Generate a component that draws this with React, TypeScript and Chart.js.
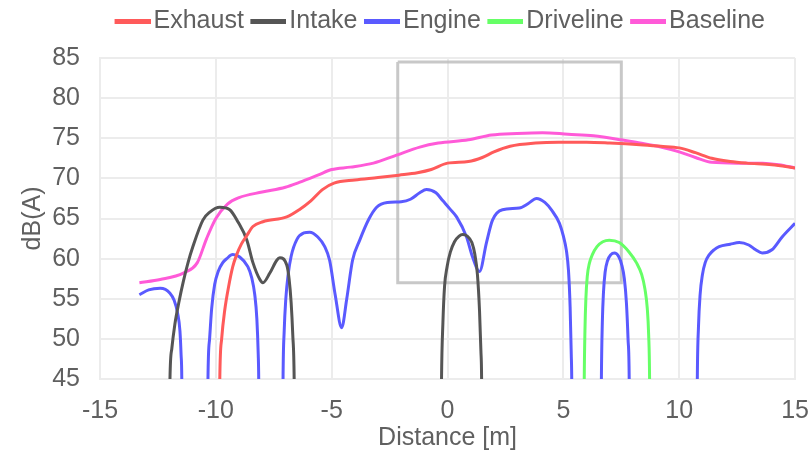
import React, { useEffect, useRef } from 'react';
import { Chart, registerables } from 'chart.js';

Chart.register(...registerables);

// ---- Data ----
const seriesNames = ['Exhaust', 'Intake', 'Engine', 'Driveline', 'Baseline'];
const seriesColors = ['#ff5a5a', '#555555', '#5a5aff', '#66ff66', '#ff5ad8'];

const exhaustX = [-9.87, -9.83, -9.75, -9.62, -9.45, -9.27, -9.1, -8.9, -8.66, -8.4, -7.97, -6.94, -6.4, -5.9, -5.4, -4.9, -4.0, -3.0, -2.1, -1.3, -0.7, 0.0, 0.9, 1.5, 2.0, 2.7, 3.8, 4.8, 6.0, 7.0, 8.3, 9.2, 10.0, 10.7, 11.4, 12.2, 12.9, 14.0, 15.0];
const exhaustY = [30, 45, 50, 53.5, 56.5, 59.0, 60.5, 61.8, 62.9, 64.0, 64.6, 65.2, 66.1, 67.2, 68.6, 69.4, 69.8, 70.1, 70.4, 70.7, 71.1, 71.9, 72.1, 72.6, 73.3, 74.0, 74.4, 74.5, 74.5, 74.4, 74.2, 74.0, 73.8, 73.2, 72.5, 72.1, 71.9, 71.7, 71.3];

const intakeX = [-12.03, -11.98, -11.9, -11.77, -11.6, -11.4, -11.2, -10.99, -10.56, -10.26, -9.83, -9.4, -9.05, -8.66, -8.4, -8.1, -7.97, -7.67, -7.37, -7.24, -6.94, -6.84, -6.75, -6.68, -6.62, -6.58, -3,
  -0.3, -0.26, -0.2, -0.13, -0.02, 0.12, 0.3, 0.5, 0.65, 0.85, 1.05, 1.18, 1.29, 1.38, 1.44, 1.47, 1.5];
const intakeY = [30, 45, 48.8, 51.8, 54.5, 57.2, 59.5, 61.5, 64.8, 65.8, 66.4, 66.1, 64.6, 62.3, 59.5, 57.4, 57.0, 58.2, 59.8, 60.1, 59.2, 57.5, 54.5, 50.5, 45, 30, null,
  30, 45, 52, 56.5, 59.0, 60.8, 62.1, 62.8, 63.0, 62.8, 62.0, 60.5, 58.0, 53.5, 48.5, 45, 30];

const engineX = [-13.3, -12.9, -12.4, -11.98, -11.8, -11.65, -11.55, -11.5, -11.47, -11.44, -10.9,
  -10.37, -10.34, -10.27, -10.18, -10.05, -9.9, -9.7, -9.53, -9.27, -8.97, -8.62, -8.45, -8.32, -8.23, -8.17, -8.15, -8.12, -7.6,
  -7.13, -7.1, -7.05, -6.98, -6.88, -6.75, -6.5, -6.2, -5.95, -5.6, -5.3, -5.09, -4.85, -4.57, -4.35, -4.1, -3.79, -3.4, -3.06, -2.6, -2.0, -1.6, -1.2, -0.91, -0.5, -0.2, 0.1, 0.39, 0.82, 1.08, 1.38, 1.68, 1.94, 2.37, 3.1, 3.5, 3.84, 4.2, 4.5, 4.83, 5.0, 5.13, 5.22, 5.29, 5.34, 5.36, 5.39, 6.0,
  6.61, 6.64, 6.68, 6.73, 6.8, 6.9, 7.05, 7.2, 7.38, 7.52, 7.63, 7.72, 7.79, 7.84, 7.87, 9.0,
  10.75, 10.78, 10.83, 10.9, 11.0, 11.12, 11.3, 11.5, 11.72, 12.2, 12.59, 13.0, 13.3, 13.58, 14.0, 14.44, 15.0];
const engineY = [55.5, 56.1, 56.3, 55.7, 54.8, 53.2, 51.0, 48, 45, 30, null,
  30, 45, 50, 53.8, 56.8, 58.4, 59.5, 60.0, 60.5, 60.2, 59.0, 57.6, 55.5, 52.5, 48, 45, 30, null,
  30, 45, 51, 55, 58, 60.3, 62.4, 63.2, 63.3, 62.7, 61.5, 59.8, 55.5, 51.4, 55.0, 59.8, 62.3, 64.9, 66.4, 67.0, 67.1, 67.4, 68.2, 68.6, 68.2, 67.2, 66.2, 65.2, 62.7, 60.2, 58.4, 62.0, 64.8, 66.1, 66.3, 66.9, 67.5, 67.0, 66.0, 64.4, 62.8, 61.0, 58.5, 54, 48, 45, 30, null,
  30, 45, 52, 55.8, 58.3, 59.7, 60.5, 60.7, 60.3, 59.2, 57.5, 54.5, 50, 45, 30, null,
  30, 45, 51.5, 55.5, 58.0, 59.5, 60.5, 61.1, 61.5, 61.8, 62.0, 61.7, 61.1, 60.7, 61.1, 62.7, 64.4];

const drivelineX = [5.87, 5.9, 5.93, 5.97, 6.03, 6.12, 6.25, 6.45, 6.7, 6.98, 7.41, 7.84, 8.15, 8.38, 8.52, 8.62, 8.68, 8.72, 8.75];
const drivelineY = [30, 45, 51, 55, 57.8, 59.4, 60.5, 61.5, 62.1, 62.3, 62.0, 60.8, 59.5, 58.0, 56.2, 53.8, 50.5, 45, 30];

const baselineX = [-13.3, -12.4, -11.4, -10.8, -10.4, -10.0, -9.5, -9.0, -8.0, -7.0, -6.4, -5.6, -5.0, -4.2, -3.2, -2.2, -1.2, -0.4, 0.9, 1.9, 3.0, 4.1, 5.2, 6.3, 7.5, 8.3, 9.2, 10.0, 10.7, 11.4, 12.5, 13.6, 14.3, 15.0];
const baselineY = [57.0, 57.4, 58.2, 59.5, 62.5, 65.0, 66.8, 67.6, 68.3, 68.9, 69.5, 70.4, 71.1, 71.4, 71.9, 72.9, 73.9, 74.4, 74.8, 75.4, 75.6, 75.7, 75.5, 75.3, 74.8, 74.4, 73.9, 73.3, 72.6, 72.0, 71.9, 71.9, 71.7, 71.3];

const zoomBoxX = [-2.15, 7.5, 7.5, -2.15, -2.15];
const zoomBoxY = [84.5, 84.5, 57.0, 57.0, 84.5];

const xTicks = { min: -15, max: 15, step: 5 };
const yTicks = { min: 45, max: 85, step: 5 };

const toPoints = (xs: number[], ys: (number | null)[]) => xs.map((x, i) => ({ x, y: ys[i] }));

const FONT = "'Liberation Sans', Arial, sans-serif";
const TEXT = '#606060';

function makeLegendLine(color: string): HTMLCanvasElement {
  const c = document.createElement('canvas');
  c.width = 45;
  c.height = 5;
  const ctx = c.getContext('2d')!;
  ctx.fillStyle = color;
  ctx.fillRect(9, 0, 36, 5);
  return c;
}

export default function App() {
  const ref = useRef<HTMLCanvasElement | null>(null);

  useEffect(() => {
    document.body.style.margin = '0';
    const canvas = ref.current;
    if (!canvas) return;
    const legendImgs = seriesColors.map(makeLegendLine);
    const seriesData = [
      toPoints(exhaustX, exhaustY),
      toPoints(intakeX, intakeY),
      toPoints(engineX, engineY),
      toPoints(drivelineX, drivelineY),
      toPoints(baselineX, baselineY),
    ];
    const datasets: any[] = seriesNames.map((name, i) => ({
      label: name,
      data: seriesData[i],
      borderColor: seriesColors[i],
      backgroundColor: seriesColors[i],
      borderWidth: 3,
      pointRadius: 0,
      fill: false,
      spanGaps: false,
      cubicInterpolationMode: 'monotone',
    }));
    datasets.push({
      label: 'zoom',
      data: toPoints(zoomBoxX, zoomBoxY),
      borderColor: 'rgba(190,190,190,0.85)',
      backgroundColor: 'rgba(0,0,0,0)',
      borderWidth: 3,
      pointRadius: 0,
      fill: false,
      tension: 0,
    });

    const chart = new Chart(canvas, {
      type: 'line',
      data: { datasets },
      options: {
        animation: false,
        responsive: false,
        devicePixelRatio: 1,
        layout: { padding: { left: 84, right: 13, top: 2, bottom: 0 } },
        plugins: {
          legend: {
            position: 'top',
            align: 'center',
            labels: {
              usePointStyle: true,
              pointStyleWidth: 26,
              padding: 7,
              color: TEXT,
              font: { family: FONT, size: 25 },
              generateLabels: (ch: any) => {
                const items = (Chart.defaults.plugins.legend.labels as any).generateLabels(ch);
                return items
                  .filter((it: any) => it.datasetIndex < seriesNames.length)
                  .map((it: any) => ({ ...it, pointStyle: legendImgs[it.datasetIndex] }));
              },
            },
          },
          title: {
            display: true,
            text: '',
            weight: 500,
            padding: 0,
            font: { size: 14, lineHeight: 1 },
          } as any,
          tooltip: { enabled: false },
        },
        scales: {
          x: {
            type: 'linear',
            min: xTicks.min,
            max: xTicks.max,
            afterFit: (s: any) => { s.height = 74; },
            ticks: { stepSize: xTicks.step, padding: 0, color: TEXT, font: { family: FONT, size: 25, lineHeight: 2.56 } },
            grid: { color: '#ececec', lineWidth: 2, drawTicks: false },
            border: { display: true, color: '#ececec', width: 2 },
            title: {
              display: true,
              text: 'Distance [m]',
              color: TEXT,
              font: { family: FONT, size: 25, lineHeight: 1 },
              padding: { top: 0, bottom: 2.5 },
            },
          },
          y: {
            type: 'linear',
            min: yTicks.min,
            max: yTicks.max,
            afterFit: (s: any) => { s.width = 16; },
            ticks: {
              stepSize: yTicks.step,
              mirror: true,
              crossAlign: 'far',
              padding: -47.8,
              color: TEXT,
              font: { family: FONT, size: 25 },
            },
            grid: { color: '#ececec', lineWidth: 2, drawTicks: false },
            border: { display: true, color: '#ececec', width: 2 },
            title: {
              display: true,
              text: 'dB(A)',
              color: TEXT,
              font: { family: FONT, size: 25, lineHeight: 1 },
              padding: { top: -63.5, bottom: 0 },
            },
          },
        },
      } as any,
    });
    return () => chart.destroy();
  }, []);

  return (
    <div style={{ width: 809, height: 453 }}>
      <canvas ref={ref} width={809} height={453} style={{ display: 'block' }} />
    </div>
  );
}
